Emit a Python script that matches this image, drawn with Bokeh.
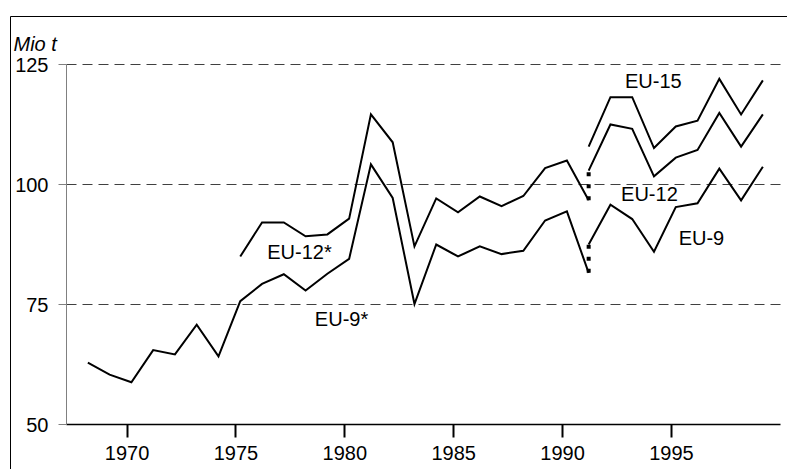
from bokeh.plotting import figure
from bokeh.models import Range1d, FixedTicker, CustomJSTickFormatter, Label, LinearAxis
from bokeh.embed import file_html
from bokeh.resources import INLINE

# ---- data ----
years_a = list(range(1968, 1992))
eu9_star = [62.9, 60.4, 58.8, 65.5, 64.6, 70.8, 64.2, 75.7, 79.3, 81.3, 77.9, 81.4,
            84.5, 104.2, 97.2, 75.1, 87.5, 85.0, 87.1, 85.5, 86.2, 92.5, 94.4, 81.6]
years_c = list(range(1975, 1992))
eu12_star = [85.0, 92.1, 92.1, 89.2, 89.6, 92.9, 114.6, 108.8, 87.1, 97.1, 94.2,
             97.5, 95.5, 97.6, 103.4, 105.0, 96.7]
years_b = list(range(1991, 2000))
eu9 = [87.5, 95.8, 92.8, 86.0, 95.3, 96.1, 103.3, 96.7, 103.7]
eu12 = [102.9, 112.5, 111.6, 101.7, 105.6, 107.2, 114.9, 107.9, 114.6]
eu15 = [107.9, 118.2, 118.2, 107.6, 112.1, 113.3, 122.0, 114.6, 121.7]
x_tick_years = [1970, 1975, 1980, 1985, 1990, 1995]
y_ticks = [50, 75, 100, 125]
grid_values = [75, 100, 125]
series_names = ["EU-12*", "EU-9*", "EU-15", "EU-12", "EU-9"]
unit_label = "Mio t"

FONT = "Liberation Sans"
W, H = 787, 469

# plotting area (axes) and its pixel scale; the outer frame begins at (10, 16)
x_lo, x_hi = 1967.02, 1999.81
y_lo, y_hi = 50, 125
PX_X = 714 / (x_hi - x_lo)
PX_Y = 360 / (y_hi - y_lo)
x_start = x_lo - (66 - 10) / PX_X
x_end = x_hi + 7 / PX_X
y_end = y_hi + (64 - 16) / PX_Y
y_start = y_lo - 45 / PX_Y

p = figure(width=W, height=H,
           x_range=Range1d(x_start, x_end), y_range=Range1d(y_start, y_end),
           x_axis_location=None, y_axis_location=None,
           output_backend="svg", toolbar_location=None,
           min_border_left=10, min_border_right=0, min_border_top=16, min_border_bottom=0)
p.outline_line_color = None
p.background_fill_color = "white"
p.border_fill_color = "white"
for g in p.grid:
    g.visible = False

# outer frame edges (top and left), drawn as bare axes at the frame edge
def bare_axis():
    return LinearAxis(ticker=FixedTicker(ticks=[]), major_tick_line_color=None,
                      minor_tick_line_color=None, major_label_text_font_size="0px",
                      axis_line_color="black", axis_line_width=1)

p.add_layout(bare_axis(), "left")
p.add_layout(bare_axis(), "above")

# y axis at the left edge of the plotting area
ya = LinearAxis(fixed_location=x_lo, bounds=(y_lo, y_hi), ticker=FixedTicker(ticks=y_ticks))
ya.axis_line_color = "#808080"
ya.axis_line_width = 1
ya.major_tick_line_color = "#808080"
ya.major_tick_out = 8
ya.major_tick_in = 0
ya.minor_tick_line_color = None
ya.major_label_standoff = 10
ya.major_label_text_font = FONT
ya.major_label_text_font_size = "20px"
ya.major_label_text_color = "black"
p.add_layout(ya, "left")

# x axis at y = 50
xa = LinearAxis(fixed_location=y_lo, bounds=(x_lo, x_hi),
                ticker=FixedTicker(ticks=[y - 0.2 for y in x_tick_years]),
                formatter=CustomJSTickFormatter(code="return Math.round(tick).toString();"))
xa.axis_line_color = "black"
xa.axis_line_width = 1.5
xa.major_tick_line_color = "black"
xa.major_tick_line_width = 2
xa.major_tick_out = 13
xa.major_tick_in = 0
xa.minor_tick_line_color = None
xa.major_label_standoff = 8
xa.major_label_text_font = FONT
xa.major_label_text_font_size = "20px"
xa.major_label_text_color = "black"
p.add_layout(xa, "below")

# dashed horizontal grid lines across the plotting area
p.segment(x0=[x_lo] * len(grid_values), y0=grid_values,
          x1=[x_hi] * len(grid_values), y1=grid_values,
          line_color="#404040", line_width=1, line_dash="10 6")

# lines
for xs, ys in [(years_a, eu9_star), (years_c, eu12_star), (years_b, eu9), (years_b, eu12), (years_b, eu15)]:
    p.line(xs, ys, line_color="black", line_width=2, line_join="miter")

# dotted break connectors
p.segment(x0=[years_b[0], years_b[0]], y0=[eu9_star[-1], eu12_star[-1]],
          x1=[years_b[0], years_b[0]], y1=[eu9[0], eu12[0]],
          line_color="black", line_width=4, line_dash="4 8", line_cap="butt")

# series labels
label_pos = [(1977.72, 86.0), (1979.65, 71.9), (1993.97, 121.5), (1993.79, 98.1), (1996.18, 88.8)]
for name, (lx, ly) in zip(series_names, label_pos):
    p.add_layout(Label(x=lx, y=ly, text=name, text_align="center", text_baseline="middle",
                       text_font=FONT, text_font_size="20px", text_color="black"))

p.add_layout(Label(x=x_lo, y=y_hi, x_offset=-53, y_offset=21, text=unit_label,
                   text_align="left", text_baseline="alphabetic", text_font=FONT,
                   text_font_style="italic", text_font_size="20px", text_color="black"))

open("out.html", "w").write(file_html(p, INLINE))
